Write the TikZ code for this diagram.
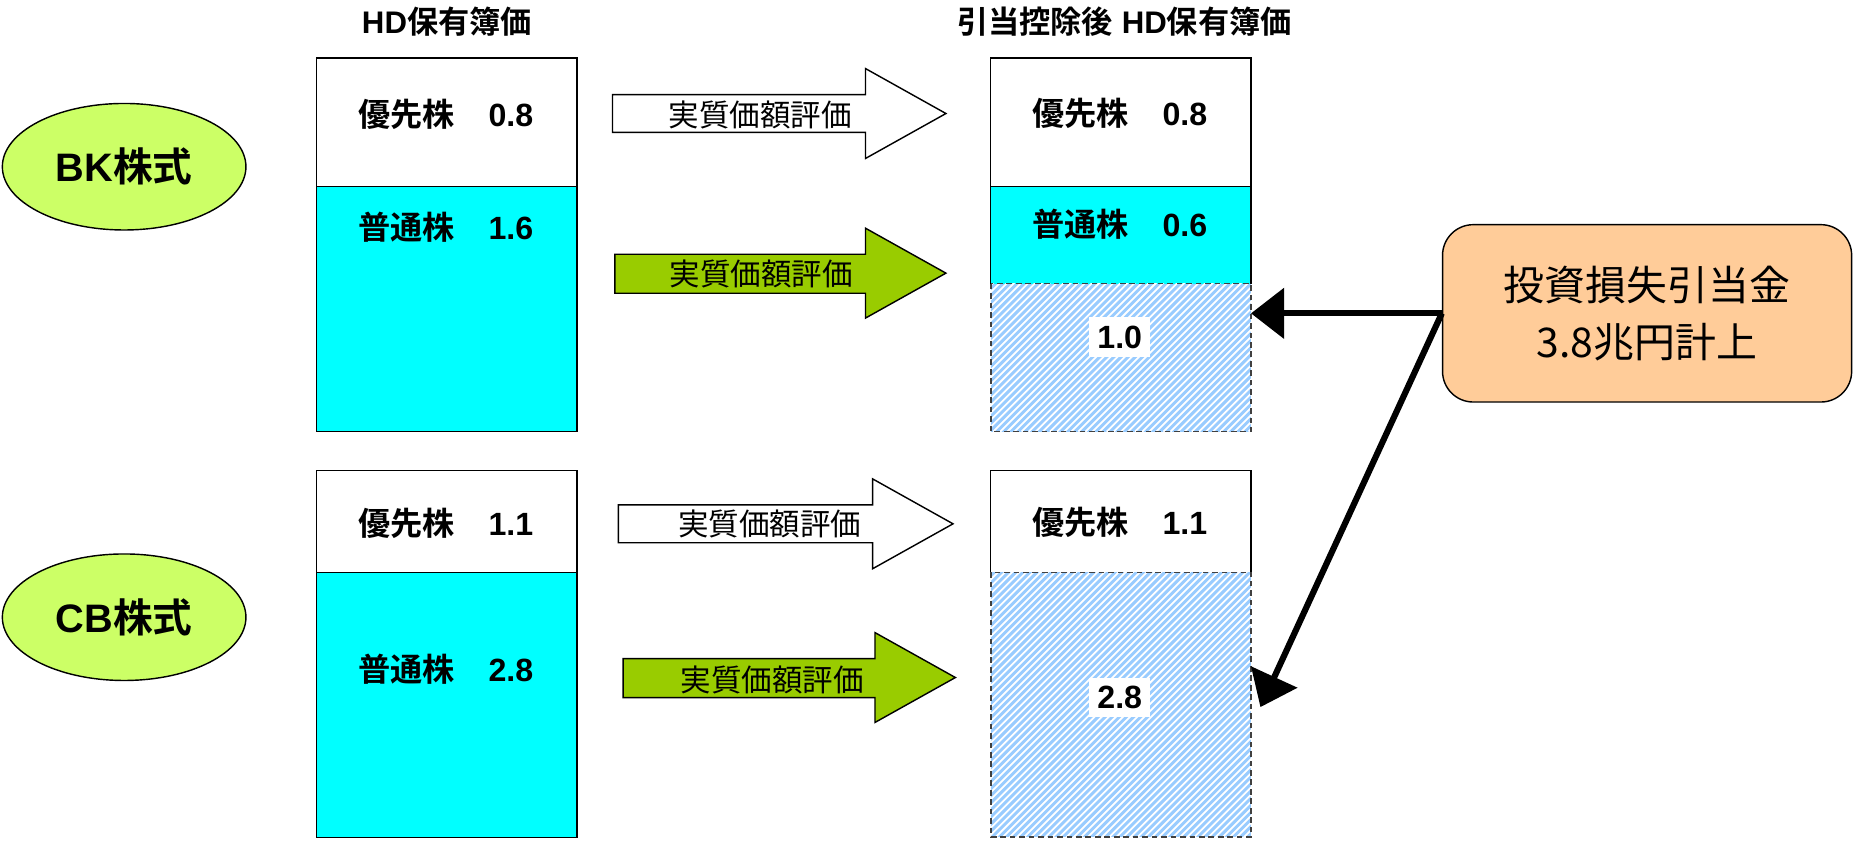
\documentclass[tikz,border=0pt]{standalone}
\usepackage{fontspec}
\setmainfont{Liberation Sans}
\newfontfamily\cjk{Noto Sans CJK JP}[BoldFont={Noto Sans CJK JP Bold}]
\usetikzlibrary{arrows.meta,shapes.geometric}
\definecolor{cyanfill}{HTML}{00FFFF}
\definecolor{limefill}{HTML}{CCFF66}
\definecolor{greenarrow}{HTML}{99CC00}
\definecolor{orangefill}{HTML}{FFCC99}
\definecolor{hatchblue}{HTML}{99CCFF}
\definecolor{dashgray}{HTML}{404040}
\begin{document}
\begin{tikzpicture}[x=0.5pt,y=-0.5pt,
  boxlbl/.style={font=\fontsize{13.6}{16}\selectfont\bfseries, inner sep=1pt},
  titlelbl/.style={font=\fontsize{13.2}{15}\selectfont\bfseries, inner sep=1pt},
  arrowlbl/.style={font=\fontsize{12.9}{15}\selectfont\cjk, inner sep=1pt},
  ovallbl/.style={ellipse, draw=black, line width=0.6pt, fill=limefill,
    minimum width=103pt, minimum height=53.5pt, inner sep=0pt,
    font=\fontsize{16.8}{19}\selectfont\bfseries},
  blockw/.style={draw=black, line width=0.6pt, fill=white},
  blockg/.style={draw=black, line width=0.6pt, fill=greenarrow},
  stockbox/.style={draw=black, line width=0.5pt},
  hatchedge/.style={draw=dashgray, line width=0.6pt, dash pattern=on 2.4pt off 1.6pt},
  valbg/.style={boxlbl, fill=white, inner sep=3.5pt},
  conn/.style={line width=2.6pt, -{Triangle[length=14pt,width=21pt]}},
  notebox/.style={draw=black, line width=0.6pt, fill=orangefill, rounded corners=13pt,
    minimum width=173pt, minimum height=75pt, align=center,
    font=\fontsize{17.3}{24}\selectfont\cjk}
]
\useasboundingbox (0,0) rectangle (1568,713);

% titles
\node[titlelbl] (t1) at (378,18) {HD{\cjk 保有簿価}};
\node[titlelbl] (t2) at (951,18) {{\cjk 引当控除後} HD{\cjk 保有簿価}};

% ellipses
\node[ovallbl] (bk) at (105,141) {BK{\cjk 株式}};
\node[ovallbl] (cb) at (105,522) {CB{\cjk 株式}};

% left boxes
\fill[white] (268,49) rectangle (488,158);
\fill[cyanfill] (268,158) rectangle (488,365);
\draw[stockbox] (268,49) rectangle (488,365);
\draw[stockbox] (268,158) -- (488,158);
\fill[white] (268,398) rectangle (488,484);
\fill[cyanfill] (268,484) rectangle (488,708);
\draw[stockbox] (268,398) rectangle (488,708);
\draw[stockbox] (268,484) -- (488,484);

\node[boxlbl] (lp1) at (377,97) {{\cjk 優先株}\hspace{1.05em}0.8};
\node[boxlbl] (lc1) at (377,192) {{\cjk 普通株}\hspace{1.05em}1.6};
\node[boxlbl] (lp2) at (377,443) {{\cjk 優先株}\hspace{1.05em}1.1};
\node[boxlbl] (lc2) at (377,566) {{\cjk 普通株}\hspace{1.05em}2.8};

% right boxes
\fill[white] (838,49) rectangle (1058,158);
\fill[cyanfill] (838,158) rectangle (1058,240);
\begin{scope}
  \clip (838,240) rectangle (1058,365);
  \fill[hatchblue] (838,240) rectangle (1058,365);
  \foreach \i in {0,6,...,360} \draw[white, line width=0.75pt] (708+\i,365) -- ++(130,-130);
\end{scope}
\fill[white] (838,398) rectangle (1058,484);
\begin{scope}
  \clip (838,484) rectangle (1058,708);
  \fill[hatchblue] (838,484) rectangle (1058,708);
  \foreach \i in {0,6,...,460} \draw[white, line width=0.75pt] (614+\i,708) -- ++(230,-230);
\end{scope}
\draw[stockbox] (838,240) -- (838,49) -- (1058,49) -- (1058,240);
\draw[stockbox] (838,158) -- (1058,158);
\draw[hatchedge] (838,240) rectangle (1058,365);
\draw[stockbox] (838,484) -- (838,398) -- (1058,398) -- (1058,484);
\draw[hatchedge] (838,484) rectangle (1058,708);

\node[boxlbl] (rp1) at (947,96) {{\cjk 優先株}\hspace{1.05em}0.8};
\node[boxlbl] (rc1) at (947,190) {{\cjk 普通株}\hspace{1.05em}0.6};
\node[valbg] (rh1) at (947,285) {1.0};
\node[boxlbl] (rp2) at (947,442) {{\cjk 優先株}\hspace{1.05em}1.1};
\node[valbg] (rh2) at (947,590) {2.8};

% block arrows
\draw[blockw] (518,80) -- (732,80) -- (732,58) -- (800,96) -- (732,134) -- (732,112) -- (518,112) -- cycle;
\node[arrowlbl] (a1) at (643,97) {実質価額評価};
\draw[blockg] (520,215) -- (732,215) -- (732,193) -- (800,231) -- (732,269) -- (732,248) -- (520,248) -- cycle;
\node[arrowlbl] (a2) at (644,232) {実質価額評価};
\draw[blockw] (523,427) -- (738,427) -- (738,405) -- (806,443) -- (738,481) -- (738,459) -- (523,459) -- cycle;
\node[arrowlbl] (a3) at (651,443) {実質価額評価};
\draw[blockg] (527,557) -- (740,557) -- (740,535) -- (808,573) -- (740,611) -- (740,590) -- (527,590) -- cycle;
\node[arrowlbl] (a4) at (653,575) {実質価額評価};

% note box
\node[notebox] (nb) at (1393,265) {投資損失引当金\\3.8兆円計上};

% connectors
\coordinate (e1) at (1058,265);
\coordinate (e2) at (1066,598);
\draw[conn] (nb.west) -- (e1);
\draw[conn] (nb.west) -- (e2);
\end{tikzpicture}
\end{document}
